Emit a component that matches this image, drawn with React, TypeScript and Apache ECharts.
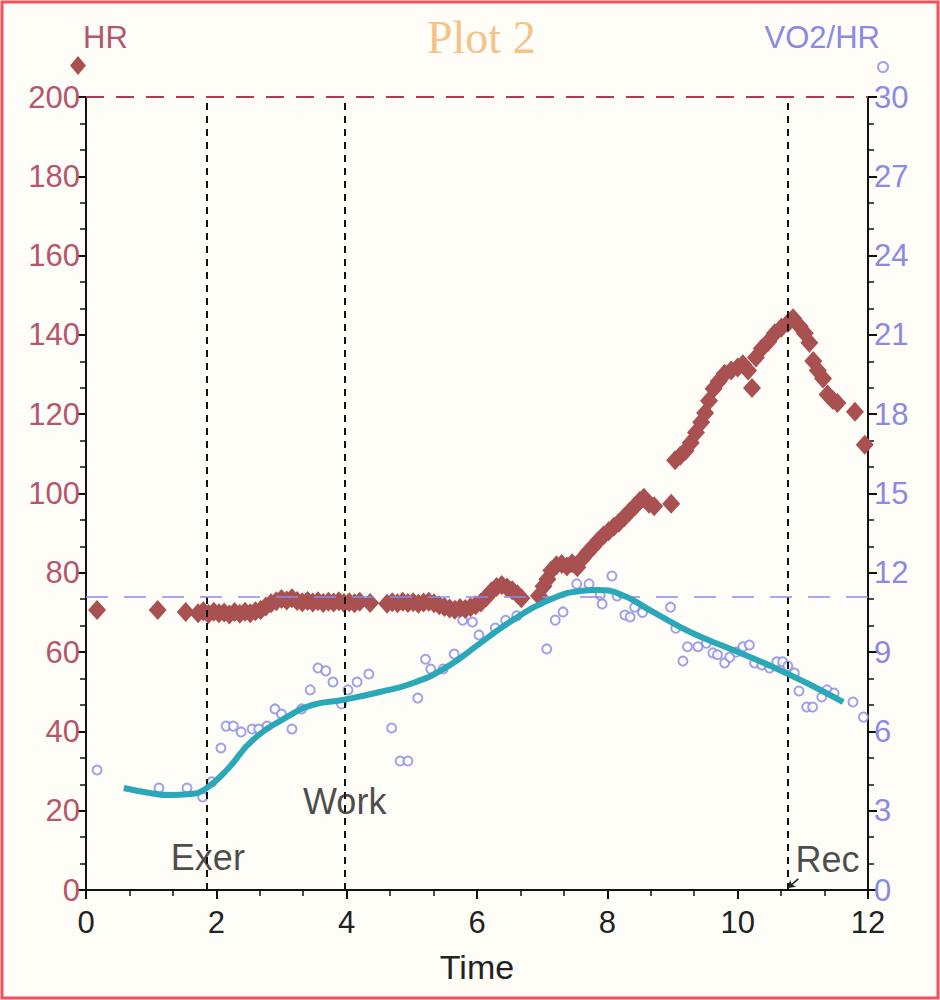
import React, { useEffect, useRef } from "react";
import * as echarts from "echarts";

const xTicks = [0, 2, 4, 6, 8, 10, 12];

const hrTime = [
  0.17, 1.1, 1.53, 1.72, 1.8, 1.88, 1.96, 2.04, 2.12, 2.2, 2.28, 2.36, 2.44, 2.52, 2.6, 2.68,
  2.76, 2.84, 2.92, 3.0, 3.08, 3.16, 3.24, 3.32, 3.4, 3.48, 3.56, 3.64, 3.72, 3.8, 3.88, 3.96,
  4.04, 4.12, 4.2, 4.36, 4.62, 4.7, 4.78, 4.86, 4.94, 5.02, 5.1, 5.18, 5.26, 5.34, 5.42, 5.5,
  5.58, 5.66, 5.74, 5.82, 5.9, 5.98, 6.06, 6.14, 6.22, 6.3, 6.38, 6.46, 6.54, 6.62, 6.68, 6.95,
  7.02, 7.08, 7.14, 7.22, 7.3, 7.38, 7.46, 7.54, 7.62, 7.7, 7.78, 7.86, 7.94, 8.02, 8.1, 8.18,
  8.26, 8.34, 8.42, 8.5, 8.56, 8.64, 8.72, 8.98, 9.04, 9.12, 9.2, 9.28, 9.36, 9.44, 9.5, 9.56,
  9.63, 9.71, 9.8, 9.9, 10.0, 10.08, 10.16, 10.22, 10.28, 10.37, 10.47, 10.57, 10.67, 10.77,
  10.85, 10.95, 11.03, 11.1, 11.16, 11.23, 11.31, 11.38, 11.46, 11.53, 11.8, 11.95,
];
const hrValue = [
  70.6, 70.6, 70.1, 69.8, 70.3, 69.6, 70.2, 69.8, 70.0, 69.5, 70.1, 69.7, 70.2, 69.8, 70.3, 70.6,
  71.5, 72.3, 72.8, 73.4, 73.0, 73.6, 72.9, 72.6, 72.9, 72.5, 72.8, 72.4, 72.7, 72.5, 72.8, 72.4,
  72.6, 72.3, 72.7, 72.4, 72.2, 72.6, 72.3, 72.7, 72.4, 72.6, 72.2, 72.5, 72.7, 72.3, 71.8, 71.4,
  71.0, 70.7, 71.1, 70.9, 71.3, 71.8, 72.5, 73.8, 75.3, 76.4, 76.9, 76.3, 75.6, 74.6, 73.6, 74.2,
  76.6, 78.4, 80.6, 81.9, 82.2, 81.6, 82.4, 81.4, 83.6, 85.2, 86.6, 88.1, 89.4, 90.5, 91.6, 92.7,
  94.0, 95.4, 96.7, 98.2, 98.9, 97.4, 96.8, 97.4, 108.4, 109.5, 110.8, 112.8, 115.4, 118.0, 120.3, 123.4,
  126.4, 128.3, 130.2, 131.0, 131.8, 132.6, 131.0, 126.6, 134.3, 136.6, 138.3, 140.4, 141.8, 143.0,
  144.2, 142.2, 140.4, 138.0, 133.4, 131.0, 129.0, 125.0, 123.6, 122.8, 120.6, 112.3,
];

const vo2Time = [
  0.17, 1.12, 1.55, 1.79, 1.93, 2.07, 2.15, 2.26, 2.38, 2.55, 2.65, 2.78, 2.9, 3.0, 3.16, 3.31,
  3.44, 3.56, 3.68, 3.79, 3.92, 4.02, 4.16, 4.34, 4.69, 4.82, 4.94, 5.09, 5.21, 5.29, 5.48, 5.65,
  5.78, 5.93, 6.03, 6.28, 6.44, 6.61, 7.07, 7.2, 7.32, 7.53, 7.72, 7.89, 7.92, 8.07, 8.15, 8.27,
  8.35, 8.42, 8.54, 8.97, 9.05, 9.16, 9.23, 9.39, 9.52, 9.62, 9.69, 9.8, 9.88, 9.98, 10.08, 10.18,
  10.26, 10.37, 10.49, 10.6, 10.69, 10.77, 10.87, 10.94, 11.06, 11.15, 11.29, 11.37, 11.48, 11.77, 11.93,
];
const vo2Value = [
  4.54, 3.86, 3.86, 3.52, 4.09, 5.37, 6.2, 6.2, 5.98, 6.09, 6.09, 6.2, 6.85, 6.66, 6.09, 6.85,
  7.57, 8.4, 8.29, 7.87, 7.04, 7.57, 7.87, 8.17, 6.13, 4.88, 4.88, 7.26, 8.73, 8.36, 8.36, 8.93,
  10.21, 10.14, 9.65, 9.91, 10.2, 10.37, 9.12, 10.21, 10.52, 11.58, 11.58, 11.16, 10.82, 11.88, 11.12, 10.4,
  10.33, 10.7, 10.5, 10.7, 9.9, 8.66, 9.2, 9.2, 9.34, 8.97, 8.9, 8.59, 8.81, 9.0, 9.2, 9.27,
  8.59, 8.51, 8.4, 8.63, 8.63, 8.47, 8.21, 7.53, 6.92, 6.92, 7.3, 7.57, 7.45, 7.11, 6.54,
];

const trendTime = [
  0.58, 0.98, 1.29, 1.6, 1.83, 2.16, 2.56, 3.08, 3.48, 3.94, 4.51, 5.02, 5.54, 6.05, 6.55, 7.07,
  7.58, 7.84, 8.19, 8.7, 9.27, 9.93, 10.54, 11.06, 11.62,
];
const trendValue = [
  3.86, 3.67, 3.59, 3.63, 3.82, 4.54, 5.67, 6.54, 7.0, 7.19, 7.49, 7.83, 8.44, 9.34, 10.21, 10.93,
  11.31, 11.35, 11.2, 10.52, 9.76, 9.08, 8.44, 7.83, 7.11,
];

const phaseTimes = [1.85, 3.97, 10.77];
const phaseNames = ["Exer", "Work", "Rec"];
const phaseLabelTime = [1.87, 3.97, 11.38];
const phaseLabelHR = [8.3, 22.2, 7.6];

const hrLimit = 200;
const vo2Threshold = 11.1;

const SANS = "'Liberation Sans Narrow', 'Liberation Sans', Arial, sans-serif";
const RED = "#b5566a";
const BLUE = "#8a8ae2";
const DIAMOND = "#a95050";

export default function App() {
  const ref = useRef<HTMLDivElement>(null);
  useEffect(() => {
    if (!ref.current) return;
    const chart = echarts.init(ref.current, null, { renderer: "svg" });
    const hrData = hrTime.map((t, i) => [t, hrValue[i]]);
    const vo2Data = vo2Time.map((t, i) => [t, vo2Value[i]]);
    const trendData = trendTime.map((t, i) => [t, trendValue[i]]);
    const labelData = phaseNames.map((n, i) => ({ name: n, value: [phaseLabelTime[i], phaseLabelHR[i]] }));

    chart.setOption({
      animation: false,
      backgroundColor: "#fffdf7",
      title: {
        text: "Plot 2",
        left: 422,
        top: 9,
        textStyle: { fontFamily: "'Liberation Serif', serif", fontWeight: "normal", fontSize: 46, color: "#f3c387" },
      },
      legend: [
        {
          data: ["HR"],
          left: 65,
          top: 51,
          icon: "diamond",
          itemWidth: 16,
          itemHeight: 19,
          selectedMode: false,
          formatter: () => "",
          textStyle: { fontSize: 1 },
        },
        {
          data: ["VO2/HR"],
          left: 872,
          top: 56,
          itemWidth: 10,
          itemHeight: 10,
          selectedMode: false,
          formatter: () => "",
          textStyle: { fontSize: 1 },
        },
      ],
      grid: { left: 86, right: 72, top: 97, bottom: 110, outerBoundsMode: "none" },
      xAxis: {
        type: "value",
        min: 0,
        max: 12,
        interval: 2,
        name: "Time",
        nameLocation: "middle",
        nameGap: 60,
        nameTextStyle: { fontFamily: SANS, fontSize: 34, color: "#222" },
        axisLine: { show: true, onZero: false, lineStyle: { color: "#111", width: 2 } },
        axisTick: { show: true, length: 9, lineStyle: { color: "#111", width: 2 } },
        minorTick: { show: true, splitNumber: 3, length: 6, lineStyle: { color: "#111", width: 1.5 } },
        axisLabel: { fontFamily: SANS, fontSize: 31, color: "#222", margin: 17 },
        splitLine: { show: false },
      },
      yAxis: [
        {
          type: "value",
          min: 0,
          max: 200,
          interval: 20,
          position: "left",
          name: "HR",
          nameLocation: "end",
          nameGap: 44,
          nameTextStyle: { fontFamily: SANS, fontSize: 31, color: RED, align: "left", padding: [0, 0, 0, -3] },
          axisLine: { show: true, onZero: false, lineStyle: { color: "#111", width: 2 } },
          axisTick: { show: true, length: 9, lineStyle: { color: "#111", width: 2 } },
          minorTick: { show: true, splitNumber: 3, length: 6, lineStyle: { color: "#111", width: 1.5 } },
          axisLabel: { fontFamily: SANS, fontSize: 31, color: RED, margin: 6 },
          splitLine: { show: false },
        },
        {
          type: "value",
          min: 0,
          max: 30,
          interval: 3,
          position: "right",
          name: "VO2/HR",
          nameLocation: "end",
          nameGap: 44,
          nameTextStyle: { fontFamily: SANS, fontSize: 31, color: BLUE, align: "right", padding: [0, -12, 0, 0] },
          axisLine: { show: true, onZero: false, lineStyle: { color: "#111", width: 2 } },
          axisTick: { show: true, length: 9, lineStyle: { color: "#111", width: 2 } },
          minorTick: { show: true, splitNumber: 3, length: 6, lineStyle: { color: "#111", width: 1.5 } },
          axisLabel: { fontFamily: SANS, fontSize: 31, color: BLUE, margin: 6 },
          splitLine: { show: false },
        },
      ],
      graphic: [
        {
          type: "rect",
          shape: { x: 2, y: 2, width: 936, height: 996 },
          style: { fill: "none", stroke: "#f2505c", lineWidth: 3 },
          silent: true,
        },
      ],
      series: [
        {
          name: "HR",
          type: "scatter",
          yAxisIndex: 0,
          symbol: "diamond",
          symbolSize: [18, 20],
          itemStyle: { color: DIAMOND, opacity: 1 },
          data: hrData,
          z: 3,
          markLine: {
            silent: true,
            symbol: "none",
            label: { show: false },
            data: [
              { yAxis: hrLimit, lineStyle: { color: "#b03a50", type: [18, 12], width: 1.8 } },
              ...phaseTimes.map((t) => ({ xAxis: t, lineStyle: { color: "#111", type: [7, 6], width: 2 } })),
            ],
          },
        },
        {
          name: "VO2/HR",
          type: "scatter",
          yAxisIndex: 1,
          symbol: "emptyCircle",
          symbolSize: 9,
          itemStyle: { color: BLUE, borderColor: BLUE, borderWidth: 2 },
          data: vo2Data,
          z: 2,
          markLine: {
            silent: true,
            symbol: "none",
            label: { show: false },
            data: [
              { yAxis: vo2Threshold, lineStyle: { color: "#8c8ce8", type: [22, 16], width: 1.6 } },
              [
                { coord: [10.93, 0.42], symbol: "none" },
                { coord: [10.77, 0.08], symbol: "arrow", symbolSize: 7, lineStyle: { color: "#222", type: "solid", width: 1.5 } },
              ],
            ],
          },
        },
        {
          name: "trend",
          type: "line",
          yAxisIndex: 1,
          smooth: 0.5,
          showSymbol: false,
          symbol: "none",
          lineStyle: { color: "#2aa8b8", width: 6 },
          data: trendData,
          z: 5,
        },
        {
          name: "phases",
          type: "scatter",
          yAxisIndex: 0,
          symbolSize: 0,
          silent: true,
          data: labelData,
          label: {
            show: true,
            position: "inside",
            formatter: (p: any) => p.name,
            fontFamily: SANS,
            fontSize: 36,
            color: "#1c1c1c",
          },
          z: 6,
        },
      ],
    });
    return () => chart.dispose();
  }, []);
  return <div ref={ref} style={{ position: "fixed", left: 0, top: 0, width: 940, height: 1000 }} />;
}
